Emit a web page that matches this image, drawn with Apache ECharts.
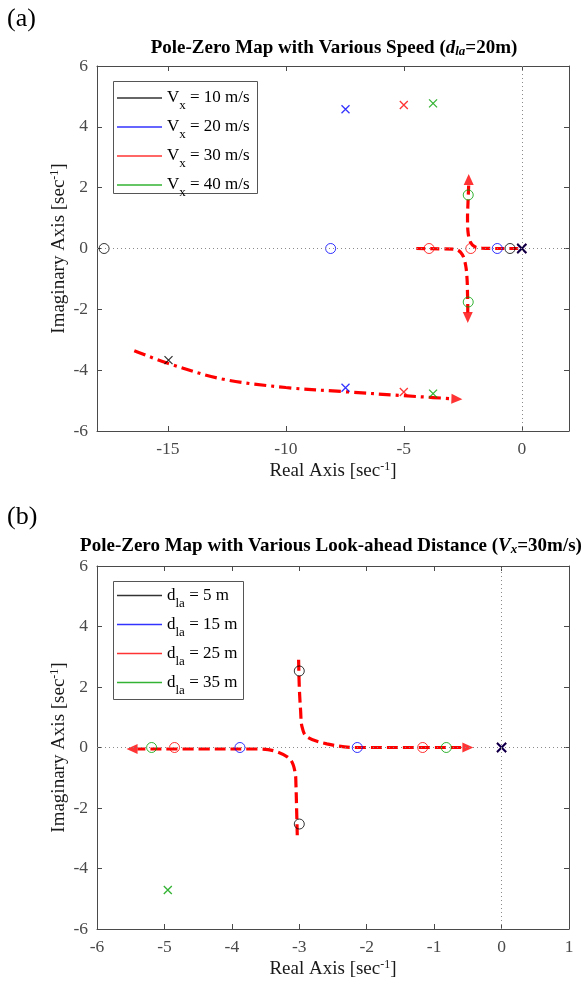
<!DOCTYPE html>
<html><head><meta charset="utf-8">
<script src="https://cdn.jsdelivr.net/npm/echarts@6/dist/echarts.min.js"></script>
<style>html,body{margin:0;padding:0;background:#fff}#c{width:582px;height:986px}</style>
</head><body><div id="c"></div>
<script>
// ---------- DATA ----------
const speedLabels = ['10', '20', '30', '40'];
const zerosA = [
  [[-17.7, 0], [-0.5, 0]],
  [[-8.1, 0], [-1.04, 0]],
  [[-3.93, 0], [-2.16, 0]],
  [[-2.27, 1.76], [-2.27, -1.76]]
];
const polesA = [
  [[-14.97, 3.67], [-14.97, -3.67], [0, 0]],
  [[-7.47, 4.58], [-7.47, -4.58], [0, 0]],
  [[-5.0, 4.72], [-5.0, -4.72], [0, 0]],
  [[-3.76, 4.77], [-3.76, -4.77], [0, 0]]
];
const xTicksA = [-15, -10, -5, 0];
const locusA_up = [[-0.15, 0], [-1.0, 0], [-1.7, 0.01], [-2.0, 0.06], [-2.18, 0.22], [-2.28, 0.55], [-2.3, 1.0], [-2.28, 1.5], [-2.26, 1.9], [-2.25, 2.1]];
const locusA_down = [[-4.47, 0], [-3.5, -0.01], [-2.8, -0.03], [-2.52, -0.2], [-2.38, -0.55], [-2.32, -1.0], [-2.3, -1.5], [-2.29, -1.9], [-2.29, -2.1]];
const locusA_dashdot = [[-16.42, -3.36], [-14.97, -3.78], [-12.7, -4.29], [-10.0, -4.57], [-7.47, -4.71], [-5.0, -4.84], [-3.76, -4.9], [-2.95, -4.94]];
const arrowsA = [[-2.25, 2.27], [-2.29, -2.27], [-2.75, -4.95]];
const arrowsA_dir = [0, 180, -92];

const distLabels = ['5', '15', '25', '35'];
const zerosB = [
  [[-3.0, 2.53], [-3.0, -2.53]],
  [[-3.88, 0], [-2.14, 0]],
  [[-4.85, 0], [-1.17, 0]],
  [[-5.19, 0], [-0.82, 0]]
];
// same Vx for all look-ahead distances: only the last-drawn (green) complex poles are visible
const polesB = [
  [[0, 0]],
  [[0, 0]],
  [[0, 0]],
  [[-4.95, 4.71], [-4.95, -4.71], [0, 0]]
];
const xTicksB = [-6, -5, -4, -3, -2, -1, 0, 1];
const locusB_up = [[-3.01, 2.9], [-3.0, 2.0], [-2.98, 1.2], [-2.96, 0.69], [-2.89, 0.36], [-2.59, 0.12], [-2.15, 0.0], [-1.2, 0], [-0.6, 0]];
const locusB_down = [[-3.03, -2.9], [-3.04, -2.0], [-3.05, -1.2], [-3.06, -0.85], [-3.13, -0.41], [-3.33, -0.14], [-3.6, -0.05], [-4.5, -0.05], [-5.4, -0.05]];
const arrowsB = [[-0.5, 0], [-5.48, -0.05]];
const arrowsB_dir = [-90, 90];

// ---------- STYLE ----------
const SERIF = '"Liberation Serif","Times New Roman",serif';
const COLORS = ['#000000', '#0000ff', '#ff0000', '#00a000'];
const AX = '#4a4a4a';
const RED = '#ff0000';
const XPATH = 'path://M0,0L10,10M10,0L0,10';

const richAxis = {
  t: { fontFamily: SERIF, fontSize: 19, color: '#1a1a1a', lineHeight: 20, verticalAlign: 'middle' },
  p: { fontFamily: SERIF, fontSize: 12, color: '#1a1a1a', lineHeight: 11, verticalAlign: 'top' }
};
const axisName = '{t|Real Axis [sec}{p|-1}{t|]}';
const yName = '{t|Imaginary Axis [sec}{p|-1}{t|]}';

function xAxes(grid, min, max, ticks) {
  const common = {
    gridIndex: grid, type: 'value', min: min, max: max,
    axisLine: { show: true, onZero: false, lineStyle: { color: AX, width: 1 } },
    axisTick: { show: true, inside: true, length: 5, customValues: ticks, lineStyle: { color: AX } },
    splitLine: { show: false }
  };
  return [
    Object.assign({}, common, {
      position: 'bottom',
      axisLabel: { customValues: ticks, color: AX, fontFamily: SERIF, fontSize: 17.5, margin: 9 },
      name: axisName, nameLocation: 'middle', nameGap: 30, nameMoveOverlap: false,
      nameTextStyle: { rich: richAxis }
    }),
    Object.assign({}, common, { position: 'top', axisLabel: { show: false } })
  ];
}
function yAxes(grid) {
  const common = {
    gridIndex: grid, type: 'value', min: -6, max: 6, interval: 2,
    axisLine: { show: true, onZero: false, lineStyle: { color: AX, width: 1 } },
    axisTick: { show: true, inside: true, length: 5, lineStyle: { color: AX } },
    splitLine: { show: false }
  };
  return [
    Object.assign({}, common, {
      position: 'left',
      axisLabel: { color: AX, fontFamily: SERIF, fontSize: 17.5, margin: 9 },
      name: yName, nameLocation: 'middle', nameGap: 28, nameRotate: 90, nameMoveOverlap: false,
      nameTextStyle: { rich: richAxis }
    }),
    Object.assign({}, common, { position: 'right', axisLabel: { show: false } })
  ];
}

const isOrigin = p => p[0] === 0 && p[1] === 0;
const series = [];
function addPanel(axIdx, names, zeros, poles, loci, dashTypes, arrows, arrowDir) {
  series.push({
    type: 'scatter', xAxisIndex: axIdx, yAxisIndex: axIdx, data: [], silent: true, z: 1,
    markLine: {
      symbol: 'none', silent: true, animation: false, label: { show: false },
      lineStyle: { type: [1, 3], color: '#8a8a8a', width: 1 },
      data: [{ xAxis: 0 }, { yAxis: 0 }]
    }
  });
  loci.forEach((d, i) => series.push({
    type: 'line', xAxisIndex: axIdx, yAxisIndex: axIdx, data: d, smooth: 0.35,
    showSymbol: false, silent: true, z: 2,
    lineStyle: { color: RED, width: 3.2, type: dashTypes[i], cap: 'butt' }
  }));
  series.push({
    type: 'scatter', xAxisIndex: axIdx, yAxisIndex: axIdx, silent: true, z: 2,
    symbol: 'triangle', symbolSize: [10, 11],
    itemStyle: { color: RED },
    data: arrows.map((p, i) => ({ value: p, symbolRotate: arrowDir[i] }))
  });
  names.forEach((n, i) => series.push({
    name: n, type: 'scatter', xAxisIndex: axIdx, yAxisIndex: axIdx, data: zeros[i],
    symbol: 'circle', symbolSize: 10, silent: true, z: 3,
    itemStyle: { color: 'transparent', borderColor: COLORS[i], borderWidth: 1 }
  }));
  names.forEach((n, i) => series.push({
    name: n, type: 'scatter', xAxisIndex: axIdx, yAxisIndex: axIdx, data: poles[i].filter(p => !isOrigin(p)),
    symbol: XPATH, symbolSize: 8, silent: true, z: 3,
    itemStyle: { color: COLORS[i], borderColor: COLORS[i], borderWidth: 1.3 }
  }));
  for (let i = names.length - 1; i >= 0; i--) {
    series.push({
      name: names[i], type: 'scatter', xAxisIndex: axIdx, yAxisIndex: axIdx, data: poles[i].filter(isOrigin),
      symbol: XPATH, symbolSize: 9, silent: true, z: 3,
      itemStyle: { color: COLORS[i], borderColor: COLORS[i], borderWidth: i === 0 ? 1.2 : 1.8 }
    });
  }
}
const namesA = speedLabels.map(s => 'V' + s);
const namesB = distLabels.map(s => 'D' + s);
addPanel(0, namesA, zerosA, polesA, [locusA_up, locusA_down, locusA_dashdot], [[9, 5], [9, 5], [12, 5, 3, 5]], arrowsA, arrowsA_dir);
addPanel(2, namesB, zerosB, polesB, [locusB_up, locusB_down], [[11, 5], [11, 5]], arrowsB, arrowsB_dir);

const legendRich = {
  t: { fontFamily: SERIF, fontSize: 17, color: '#000', lineHeight: 18, verticalAlign: 'middle' },
  s: { fontFamily: SERIF, fontSize: 13, color: '#000', lineHeight: 13, padding: [16, 0, 0, 0], verticalAlign: 'middle' }
};
function legend(top, names, labels, sym, unit) {
  return {
    left: 117, top: top, orient: 'vertical', padding: 0, itemGap: 0, z: 101,
    selectedMode: false, icon: 'rect', itemWidth: 45, itemHeight: 1.3, itemTextGap: 5,
    data: names.map((n, i) => ({ name: n, itemStyle: { color: COLORS[i], borderWidth: 0, opacity: 0.8 } })),
    formatter: name => {
      const i = names.indexOf(name);
      return '{t|' + sym[0] + '}{s|' + sym[1] + '}{t| = ' + labels[i] + ' ' + unit + '}';
    },
    textStyle: { rich: legendRich }
  };
}

const titleRich = {
  b: { fontFamily: SERIF, fontSize: 19, fontWeight: 'bold', fill: '#000', lineHeight: 20, verticalAlign: 'middle' },
  bi: { fontFamily: SERIF, fontSize: 19, fontWeight: 'bold', fontStyle: 'italic', fill: '#000', lineHeight: 20, verticalAlign: 'middle' },
  bs: { fontFamily: SERIF, fontSize: 13, fontWeight: 'bold', fontStyle: 'italic', fill: '#000', lineHeight: 11, verticalAlign: 'bottom' }
};

const option = {
  animation: false,
  backgroundColor: '#fff',
  grid: [
    { left: 97, top: 66, width: 472, height: 365 },
    { left: 97, top: 566, width: 472, height: 363 }
  ],
  xAxis: [].concat(xAxes(0, -18, 2, xTicksA), xAxes(1, -6, 1, xTicksB)),
  yAxis: [].concat(yAxes(0), yAxes(1)),
  legend: [
    legend(83.5, namesA, speedLabels, ['V', 'x'], 'm/s'),
    legend(581, namesB, distLabels, ['d', 'la'], 'm')
  ],
  graphic: [
    { type: 'rect', z: 100, shape: { x: 113.5, y: 81.5, width: 144, height: 112 }, style: { fill: '#fff', stroke: '#555', lineWidth: 1 } },
    { type: 'rect', z: 100, shape: { x: 113.5, y: 581.5, width: 130, height: 118 }, style: { fill: '#fff', stroke: '#555', lineWidth: 1 } },
    { type: 'text', x: 7, y: 19, style: { text: '(a)', font: '26px ' + SERIF, fill: '#000', verticalAlign: 'middle' } },
    { type: 'text', x: 7, y: 517, style: { text: '(b)', font: '26px ' + SERIF, fill: '#000', verticalAlign: 'middle' } },
    { type: 'text', x: 334, y: 48, style: { text: '{b|Pole-Zero Map with Various Speed (}{bi|d}{bs|la}{b|=20m)}', rich: titleRich, align: 'center', verticalAlign: 'middle' } },
    { type: 'text', x: 331, y: 546, style: { text: '{b|Pole-Zero Map with Various Look-ahead Distance (}{bi|V}{bs|x}{b|=30m/s)}', rich: titleRich, align: 'center', verticalAlign: 'middle' } }
  ],
  series: series
};
const chart = echarts.init(document.getElementById('c'));
chart.setOption(option);
</script>
</body></html>
